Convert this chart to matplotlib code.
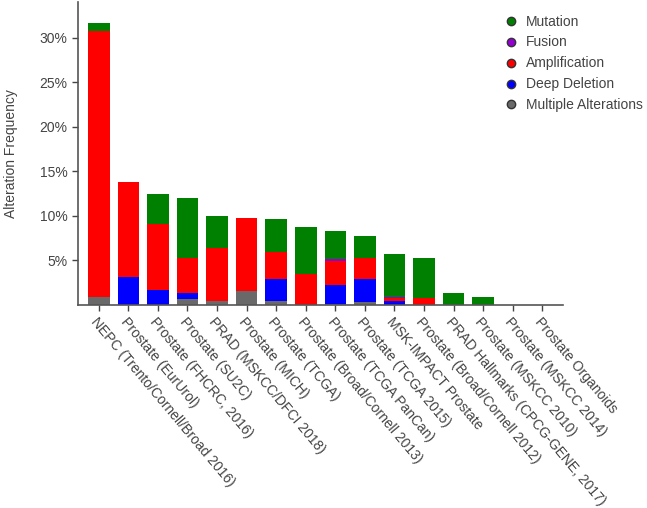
import matplotlib.pyplot as plt
import numpy as np
from matplotlib.lines import Line2D

plt.rcParams['font.family'] = ['Liberation Sans', 'DejaVu Sans']

studies = ['NEPC (Trento/Cornell/Broad 2016)', 'Prostate (EurUrol)', 'Prostate (FHCRC, 2016)',
           'Prostate (SU2C)', 'PRAD (MSKCC/DFCI 2018)', 'Prostate (MICH)', 'Prostate (TCGA)',
           'Prostate (Broad/Cornell 2013)', 'Prostate (TCGA PanCan)', 'Prostate (TCGA 2015)',
           'MSK-IMPACT Prostate', 'Prostate (Broad/Cornell 2012)', 'PRAD Hallmarks (CPCG-GENE, 2017)',
           'Prostate (MSKCC 2010)', 'Prostate (MSKCC 2014)', 'Prostate Organoids']

# segment heights in percent, bottom to top order: multiple, deletion, amplification, fusion, mutation
multiple = [0.9, 0, 0, 0.65, 0.4, 1.6, 0.4, 0, 0.1, 0.3, 0, 0, 0, 0, 0, 0]
deep_deletion = [0, 3.1, 1.7, 0.65, 0, 0, 2.55, 0, 2.1, 2.6, 0.5, 0, 0, 0, 0, 0]
amplification = [29.8, 10.7, 7.4, 4.0, 6.0, 8.2, 3.05, 3.5, 2.75, 2.4, 0.25, 0.8, 0, 0, 0, 0]
fusion = [0, 0, 0, 0, 0, 0, 0, 0, 0.25, 0, 0.2, 0, 0, 0, 0, 0]
mutation = [0.9, 0, 3.4, 6.7, 3.6, 0, 3.6, 5.2, 3.1, 2.4, 4.75, 4.5, 1.4, 0.85, 0, 0]

series = [('Multiple Alterations', multiple, '#696969'),
          ('Deep Deletion', deep_deletion, '#0000ff'),
          ('Amplification', amplification, '#ff0000'),
          ('Fusion', fusion, '#9400d3'),
          ('Mutation', mutation, '#008000')]

text_col = '#444444'

fig = plt.figure(figsize=(6.47, 5.08), dpi=100)
ax = fig.add_axes([0.1206, 0.3996, 0.7496, 0.5964])

x = np.arange(len(studies))
bottom = np.zeros(len(studies))
for name, vals, col in series:
    vals = np.array(vals)
    ax.bar(x, vals, width=0.73, bottom=bottom, color=col, linewidth=0)
    bottom += vals

ax.set_xlim(-0.7, 15.7)
ax.set_ylim(0, 34)
ax.set_yticks([5, 10, 15, 20, 25, 30])
ax.set_yticklabels(['5%', '10%', '15%', '20%', '25%', '30%'])
ax.set_xticks(x)
ax.set_xticklabels(studies, rotation=-50, ha='left', va='top', rotation_mode='anchor')
ax.tick_params(colors=text_col, labelsize=10, length=4, width=1)
ax.tick_params(axis='x', pad=3)
for s in ['top', 'right']:
    ax.spines[s].set_visible(False)
for s in ['left', 'bottom']:
    ax.spines[s].set_color('#555555')
    ax.spines[s].set_linewidth(1.2)

fig.text(0.017, 0.698, 'Alteration Frequency', rotation=90, ha='center', va='center',
         fontsize=10, color=text_col)

handles = [Line2D([], [], marker='o', linestyle='', markersize=6, markerfacecolor=col,
                  markeredgecolor='#333333', markeredgewidth=1)
           for name, vals, col in series[::-1]]
labels = [name for name, vals, col in series[::-1]]
fig.legend(handles, labels, loc='upper left', bbox_to_anchor=(0.762, 0.996), frameon=False,
           fontsize=10, labelcolor=text_col, handletextpad=0.65, labelspacing=0.5,
           handlelength=0.8)

fig.savefig('out.png', dpi=100)
